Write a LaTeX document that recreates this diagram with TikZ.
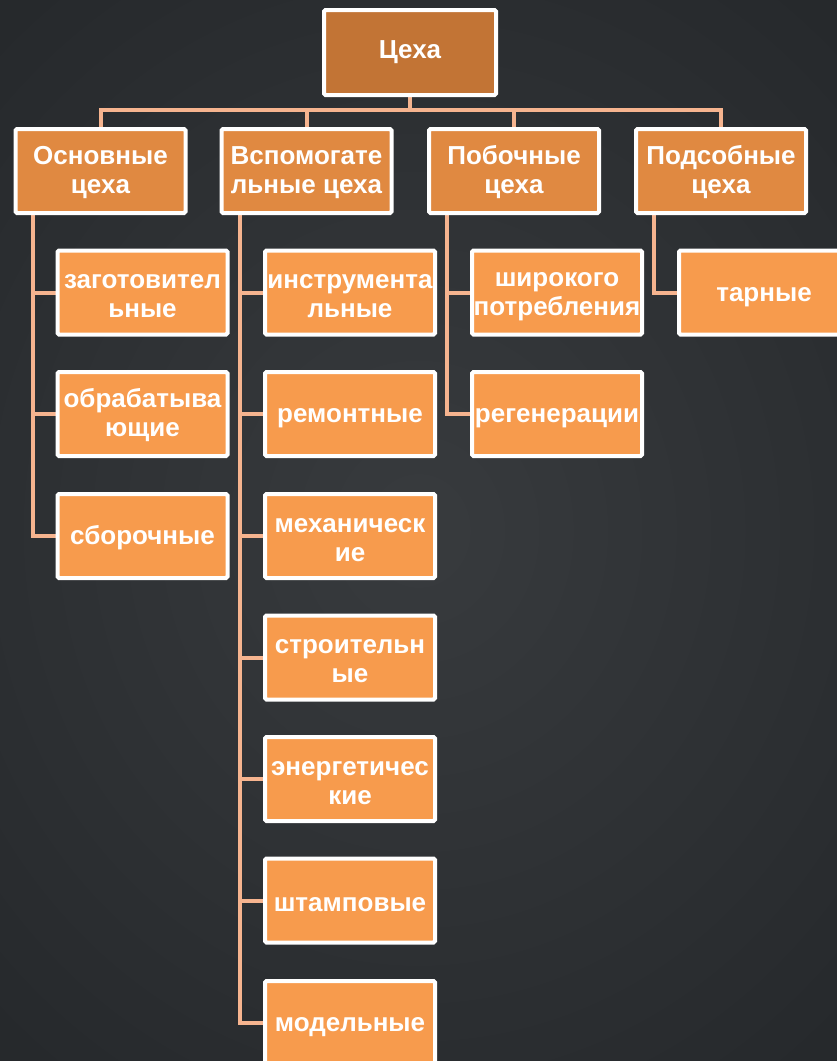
\documentclass[tikz,border=0pt]{standalone}
\usepackage{fontspec}
\setmainfont{Liberation Sans}
\definecolor{bgA}{HTML}{383B3E}
\definecolor{bgB}{HTML}{26292C}
\definecolor{rootfill}{HTML}{C27435}
\definecolor{lvlfill}{HTML}{E08941}
\definecolor{childfill}{HTML}{F79B4D}
\definecolor{conncol}{HTML}{F6B48F}
\pgfdeclarelayer{backdrop}
\pgfdeclarelayer{lines}
\pgfsetlayers{backdrop,lines,main}
\tikzset{
  box/.style={draw=white, line width=4pt, rounded corners=1.5pt, minimum width=170pt, minimum height=84pt,
    inner sep=0pt, align=center, text=white, font=\fontsize{26}{29}\selectfont\bfseries},
  oneline/.style={execute at begin node={\rule{0pt}{23pt}}},
  twoline/.style={execute at begin node={\rule{0pt}{51pt}}},
  rootbox/.style={box, fill=rootfill, minimum width=172pt, minimum height=85pt},
  lvlbox/.style={box, fill=lvlfill, twoline},
  childbox/.style={box, fill=childfill, oneline},
  childboxtwo/.style={box, fill=childfill, twoline},
  conn/.style={draw=conncol, line width=4pt}
}
\begin{document}
\begin{tikzpicture}[x=1pt,y=-1pt]
\useasboundingbox (0,0) rectangle (837,1061);
\clip (0,0) rectangle (837,1061);
\begin{pgfonlayer}{backdrop}
\shade[inner color=bgA, outer color=bgB] (-200,-150) rectangle (1037,1211);
\end{pgfonlayer}
% root
\node[rootbox] (root) at (410,52.5) {Цеха};
% level 1
\node[lvlbox] (b1) at (100.5,171) {Основные\\цеха};
\node[lvlbox] (b2) at (306.5,171) {Вспомогате\\льные цеха};
\node[lvlbox] (b3) at (514,171) {Побочные\\цеха};
\node[lvlbox] (b4) at (721,171) {Подсобные\\цеха};
% children col 1
\node[childboxtwo] (c11) at (142.5,292.5) {заготовител\\ьные};
\node[childboxtwo] (c12) at (142.5,414) {обрабатыва\\ющие};
\node[childbox] (c13) at (142.5,536) {сборочные};
% children col 2
\node[childboxtwo] (c21) at (350,292.5) {инструмента\\льные};
\node[childbox] (c22) at (350,414) {ремонтные};
\node[childboxtwo] (c23) at (350,536) {механическ\\ие};
\node[childboxtwo] (c24) at (350,657.5) {строительн\\ые};
\node[childboxtwo] (c25) at (350,779) {энергетичес\\кие};
\node[childbox] (c26) at (350,900.5) {штамповые};
\node[childbox] (c27) at (350,1023) {модельные};
% children col 3
\node[childboxtwo] (c31) at (557,292.5) {широкого\\потребления};
\node[childbox] (c32) at (557,414) {регенерации};
% children col 4
\node[childbox] (c41) at (764,292.5) {тарные};
% connectors
\coordinate (bar) at (0,110);
\coordinate (v1) at (33,0);
\coordinate (v2) at (240,0);
\coordinate (v3) at (447,0);
\coordinate (v4) at (654,0);
\begin{pgfonlayer}{lines}
\draw[conn] (root.south) -- (root.south |- bar);
\draw[conn] (b1.north) |- (b4.north |- bar) -- (b4.north);
\draw[conn] (b2.north) -- (b2.north |- bar);
\draw[conn] (b3.north) -- (b3.north |- bar);
% column 1
\draw[conn] (b1.south -| v1) |- (c13.west);
\draw[conn] (v1 |- c11.west) -- (c11.west);
\draw[conn] (v1 |- c12.west) -- (c12.west);
% column 2
\draw[conn] (b2.south -| v2) |- (c27.west);
\foreach \c in {c21,c22,c23,c24,c25,c26}{
  \draw[conn] (v2 |- \c.west) -- (\c.west);
}
% column 3
\draw[conn] (b3.south -| v3) |- (c32.west);
\draw[conn] (v3 |- c31.west) -- (c31.west);
% column 4
\draw[conn] (b4.south -| v4) |- (c41.west);
\end{pgfonlayer}
\end{tikzpicture}
\end{document}
